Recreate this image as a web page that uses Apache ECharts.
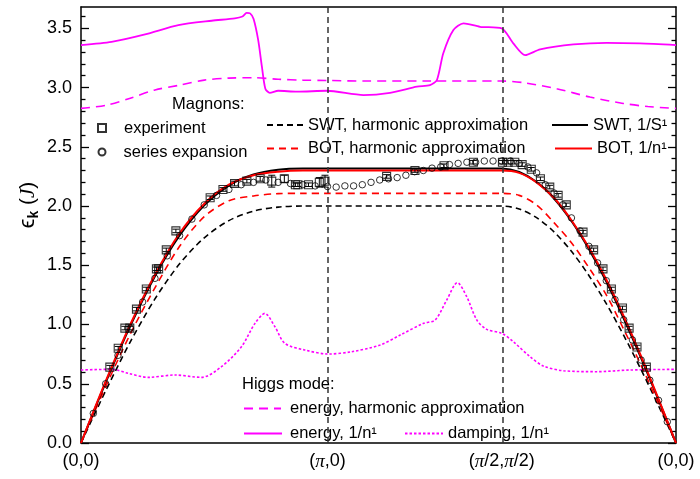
<!DOCTYPE html>
<html><head><meta charset="utf-8">
<script src="https://cdn.jsdelivr.net/npm/echarts@6/dist/echarts.min.js"></script>
<style>html,body{margin:0;padding:0;background:#fff}#c{width:700px;height:479px}</style>
</head><body><div id="c"></div>
<script>
// ---- axis ticks / labels ----
const xTickValues = [0, 1, 1.7071, 2.4142];
const xTickLabels = ['(0,0)', '(π,0)', '(π/2,π/2)', '(0,0)'];
const yMajorTicks = [0, 0.5, 1.0, 1.5, 2.0, 2.5, 3.0, 3.5];
const yMinorTicks = [0.1,0.2,0.3,0.4,0.6,0.7,0.8,0.9,1.1,1.2,1.3,1.4,1.6,1.7,1.8,1.9,2.1,2.2,2.3,2.4,2.6,2.7,2.8,2.9,3.1,3.2,3.3,3.4,3.6];

// ---- magnon theory curves (path coordinate in units of pi) ----
const curveX  = [0,0.1,0.2,0.3,0.4,0.5,0.6,0.7,0.8,0.9,1.0,1.3536,1.7071,1.7778,1.8485,1.9192,1.9899,2.0607,2.1314,2.2021,2.2728,2.3435,2.4142];
const swtHarm = [0,0.44,0.853,1.216,1.512,1.732,1.877,1.957,1.991,2.0,2.0,2.0,2.0,1.975,1.902,1.782,1.618,1.414,1.176,0.908,0.618,0.313,0];
const botHarm = [0,0.475,0.92,1.31,1.66,1.91,2.045,2.085,2.105,2.107,2.107,2.107,2.107,2.09,2.01,1.86,1.69,1.48,1.25,0.96,0.655,0.33,0];
const swt1S   = [0,0.51,0.988,1.408,1.751,2.006,2.173,2.266,2.306,2.316,2.316,2.316,2.316,2.287,2.203,2.064,1.874,1.637,1.362,1.051,0.716,0.362,0];
const bot1n   = [0,0.52,1.0,1.42,1.77,2.02,2.18,2.26,2.29,2.30,2.30,2.30,2.30,2.28,2.20,2.07,1.88,1.65,1.38,1.07,0.73,0.37,0];

// ---- experiment ----
const expX = [0.117,0.151,0.178,0.198,0.225,0.265,0.306,0.315,0.346,0.385,0.524,0.576,0.623,0.673,0.727,0.774,0.825,0.87,0.88,0.923,0.967,0.99,1.24,1.355,1.473,1.592,1.71,1.733,1.76,1.79,1.827,1.864,1.902,1.936,1.969,2.037,2.08,2.118,2.152,2.197,2.224,2.256,2.294];
const expY = [0.64,0.80,0.97,0.97,1.13,1.30,1.47,1.47,1.63,1.79,2.07,2.14,2.19,2.21,2.23,2.21,2.23,2.18,2.18,2.18,2.20,2.21,2.25,2.30,2.34,2.37,2.37,2.37,2.37,2.35,2.31,2.23,2.16,2.09,2.01,1.78,1.63,1.47,1.30,1.14,0.97,0.81,0.64];
const expErr = [0.015,0.015,0.015,0.015,0.015,0.015,0.015,0.015,0.015,0.015,0.015,0.015,0.02,0.015,0.02,0.05,0.03,0.015,0.015,0.015,0.04,0.05,0.015,0.015,0.015,0.015,0.015,0.015,0.015,0.015,0.015,0.015,0.015,0.015,0.015,0.015,0.015,0.015,0.015,0.015,0.015,0.015,0.015];

// ---- series expansion ----
const seX = [0.05,0.1,0.15,0.2,0.25,0.3,0.35,0.4,0.45,0.5,0.55,0.6,0.65,0.7,0.75,0.8,0.85,0.9,0.95,1.0,
  1.0354,1.0707,1.1061,1.1414,1.1768,1.2121,1.2475,1.2828,1.3182,1.3536,1.3889,1.4243,1.4596,1.495,1.5303,1.5657,1.6010,1.6364,1.6718,1.7071,
  1.7425,1.7778,1.8132,1.8485,1.8839,1.9192,1.9546,1.9899,2.0253,2.0607,2.0960,2.1314,2.1667,2.2021,2.2374,2.2728,2.3081,2.3435,2.3789];
const seY = [0.25,0.50,0.74,0.97,1.19,1.39,1.58,1.75,1.89,2.01,2.09,2.14,2.18,2.20,2.22,2.20,2.19,2.18,2.17,2.165,
  2.16,2.17,2.17,2.18,2.20,2.22,2.23,2.24,2.26,2.29,2.30,2.32,2.33,2.35,2.36,2.37,2.37,2.38,2.38,2.38,
  2.38,2.36,2.33,2.28,2.18,2.11,2.01,1.90,1.79,1.66,1.52,1.37,1.21,1.04,0.87,0.70,0.53,0.36,0.18];

// ---- Higgs mode ----
const higgsHarmX = [0,0.1,0.2,0.3,0.4,0.5,0.6,0.7,0.8,0.9,1.0,1.15,1.4,1.7071,1.8,1.93,2.065,2.2,2.3,2.4142];
const higgsHarmY = [2.824,2.85,2.91,2.98,3.02,3.063,3.08,3.083,3.07,3.063,3.06,3.055,3.055,3.055,3.04,2.99,2.92,2.866,2.84,2.824];
const higgs1nX = [0,0.124,0.26,0.395,0.53,0.624,0.655,0.672,0.686,0.700,0.719,0.734,0.748,0.766,0.80,0.876,0.998,1.146,1.254,1.363,1.416,1.444,1.47,1.511,1.552,1.619,1.707,1.754,1.802,1.863,1.998,2.133,2.268,2.4142];
const higgs1nY = [3.359,3.386,3.449,3.527,3.564,3.584,3.60,3.63,3.626,3.58,3.40,3.176,2.99,2.956,2.973,2.965,2.973,2.937,2.956,3.007,3.021,3.063,3.289,3.485,3.542,3.513,3.50,3.373,3.274,3.322,3.364,3.378,3.373,3.359];
const dampX = [0,0.124,0.192,0.273,0.381,0.489,0.57,0.651,0.706,0.746,0.787,0.827,0.908,1.003,1.097,1.214,1.295,1.39,1.437,1.484,1.527,1.565,1.606,1.646,1.707,1.754,1.822,1.876,1.957,2.092,2.227,2.4142];
const dampY = [0.616,0.622,0.588,0.554,0.574,0.554,0.644,0.813,1.01,1.094,0.981,0.841,0.785,0.751,0.77,0.827,0.911,1.01,1.038,1.207,1.353,1.235,1.038,0.959,0.926,0.855,0.728,0.65,0.61,0.602,0.616,0.622];

const vLines = [1, 1.7071];

// ---- build ----
const FF = '"Liberation Sans", Arial, sans-serif';
const zip = (a, b) => a.map((v, i) => [v, b[i]]);
const chart = echarts.init(document.getElementById('c'), null, {renderer: 'canvas'});

function yAx(pos, ticks, len, labels, line) {
  return {
    type: 'value', position: pos, min: 0, max: 3.68, interval: 0.5,
    axisLine: {show: line, onZero: false, lineStyle: {color: '#000', width: 1.5}},
    axisTick: {show: true, inside: true, length: len, customValues: ticks, lineStyle: {color: '#000', width: 1.3}},
    axisLabel: labels ? {show: true, customValues: yMajorTicks, formatter: v => v.toFixed(1), fontSize: 18, color: '#000', fontFamily: FF, margin: 9} : {show: false},
    splitLine: {show: false}
  };
}

function lineSeries(name, xs, ys, color, width, type, smooth) {
  return {
    name, type: 'line', data: zip(xs, ys), symbol: 'none', smooth: smooth,
    lineStyle: {color, width, type}, itemStyle: {color}, z: 3, silent: true
  };
}

const legendText = {fontSize: 16.5, color: '#000', fontFamily: FF};
function legLine(name, left, cy, w, textShift) {
  return {data: [name], left, top: cy - 7, itemWidth: w, itemHeight: 14, padding: 0,
    itemStyle: {opacity: 0}, textStyle: Object.assign({padding: [0, 0, 0, textShift || 0]}, legendText), selectedMode: false};
}
function legSym(name, left, cy, size, textShift) {
  return {data: [name], left, top: cy - size / 2, itemWidth: size, itemHeight: size, padding: 0,
    textStyle: Object.assign({padding: [0, 0, 0, textShift]}, legendText), selectedMode: false};
}

const option = {
  animation: false,
  grid: {left: 81, right: 24, top: 7, bottom: 36},
  xAxis: [
    {type: 'value', min: 0, max: 2.4142, position: 'bottom',
     axisLine: {onZero: false, lineStyle: {color: '#000', width: 1.5}}, axisTick: {show: false}, splitLine: {show: false},
     axisLabel: {customValues: xTickValues, fontSize: 18, color: '#000', fontFamily: FF, margin: 9,
       formatter: v => { const i = xTickValues.indexOf(v); const s = i >= 0 ? xTickLabels[i] : ''; return s.replace(/π/g, '{p|π}'); },
       rich: {p: {fontSize: 19, fontStyle: 'italic', fontFamily: '"Liberation Serif", serif', color: '#000'}}}},
    {type: 'value', min: 0, max: 2.4142, position: 'top',
     axisLine: {onZero: false, lineStyle: {color: '#000', width: 1.5}}, axisTick: {show: false}, axisLabel: {show: false}, splitLine: {show: false}}
  ],
  yAxis: [
    yAx('left', yMajorTicks, 8, true, true),
    yAx('left', yMinorTicks, 4.5, false, false),
    yAx('right', yMajorTicks, 8, false, true),
    yAx('right', yMinorTicks, 4.5, false, false)
  ],
  legend: [
    legSym('experiment', 97, 123.5, 8, 13),
    legSym('series expansion', 97.5, 147, 7, 13),
    legLine('SWT, harmonic approximation', 266, 123.5, 36),
    legLine('BOT, harmonic approximation', 266, 147, 36),
    legLine('SWT, 1/S¹', 551, 123.5, 36),
    legLine('BOT, 1/n¹', 554, 147, 37),
    legLine('energy, harmonic approximation', 243, 407, 37, 4),
    legLine('energy, 1/n¹', 243, 432, 38, 3),
    legLine('damping, 1/n¹', 404, 432, 38)
  ],
  graphic: [
    {type: 'text', left: 172, top: 96, style: {text: 'Magnons:', fontSize: 16.5, fill: '#000', fontFamily: FF}},
    {type: 'text', left: 242, top: 376, style: {text: 'Higgs mode:', fontSize: 16.5, fill: '#000', fontFamily: FF}},
    {type: 'text', x: 28, y: 205, rotation: Math.PI / 2,
     style: {text: '{e|ϵ}{k|k}{s| (}{j|J}{s|)}', align: 'center', verticalAlign: 'middle',
       rich: {e: {fontSize: 22, fontFamily: FF, fill: '#000'},
              k: {fontSize: 14, fontWeight: 'bold', fontFamily: FF, fill: '#000', padding: [12, 0, 0, 0]},
              s: {fontSize: 21, fontFamily: FF, fill: '#000'},
              j: {fontSize: 21, fontStyle: 'italic', fontFamily: '"Liberation Serif", serif', fill: '#000'}}}}
  ],
  series: [
    Object.assign(lineSeries('damping, 1/n¹', dampX, dampY, '#ff00ff', 1.6, [2.5, 2], 0.3), {
      markLine: {silent: true, symbol: ['none', 'none'], label: {show: false},
        lineStyle: {color: '#333', width: 1.5, type: [6, 4]}, data: vLines.map(v => ({xAxis: v}))}
    }),
    lineSeries('energy, harmonic approximation', higgsHarmX, higgsHarmY, '#ff00ff', 1.6, [9, 6], 0.3),
    lineSeries('energy, 1/n¹', higgs1nX, higgs1nY, '#ff00ff', 1.8, 'solid', 0.25),
    lineSeries('SWT, harmonic approximation', curveX, swtHarm, '#000', 1.6, [6, 4], 0.3),
    lineSeries('BOT, harmonic approximation', curveX, botHarm, '#ff0000', 1.6, [7, 5], 0.3),
    lineSeries('SWT, 1/S¹', curveX, swt1S, '#000', 2, 'solid', 0.3),
    lineSeries('BOT, 1/n¹', curveX, bot1n, '#ff0000', 2, 'solid', 0.3),
    {type: 'custom', name: 'errors', silent: true, z: 5,
     data: expX.map((x, i) => [x, expY[i], expErr[i]]),
     renderItem: (params, api) => {
       const x = api.value(0), y = api.value(1), e = api.value(2);
       const t = api.coord([x, y + e]), b = api.coord([x, y - e]);
       const st = {stroke: '#000', lineWidth: 1};
       return {type: 'group', children: [
         {type: 'line', shape: {x1: t[0], y1: t[1], x2: b[0], y2: b[1]}, style: st},
         {type: 'line', shape: {x1: t[0] - 3.5, y1: t[1], x2: t[0] + 3.5, y2: t[1]}, style: st},
         {type: 'line', shape: {x1: b[0] - 3.5, y1: b[1], x2: b[0] + 3.5, y2: b[1]}, style: st}
       ]};
     }},
    {name: 'experiment', type: 'scatter', data: zip(expX, expY), symbol: 'rect', symbolSize: 8, z: 6, silent: true,
     itemStyle: {color: 'rgba(255,255,255,0)', borderColor: '#000', borderWidth: 1.1}},
    {name: 'series expansion', type: 'scatter', data: zip(seX, seY), symbol: 'circle', symbolSize: 6.5, z: 6, silent: true,
     itemStyle: {color: 'rgba(255,255,255,0)', borderColor: '#000', borderWidth: 1}}
  ]
};
chart.setOption(option);
</script></body></html>
